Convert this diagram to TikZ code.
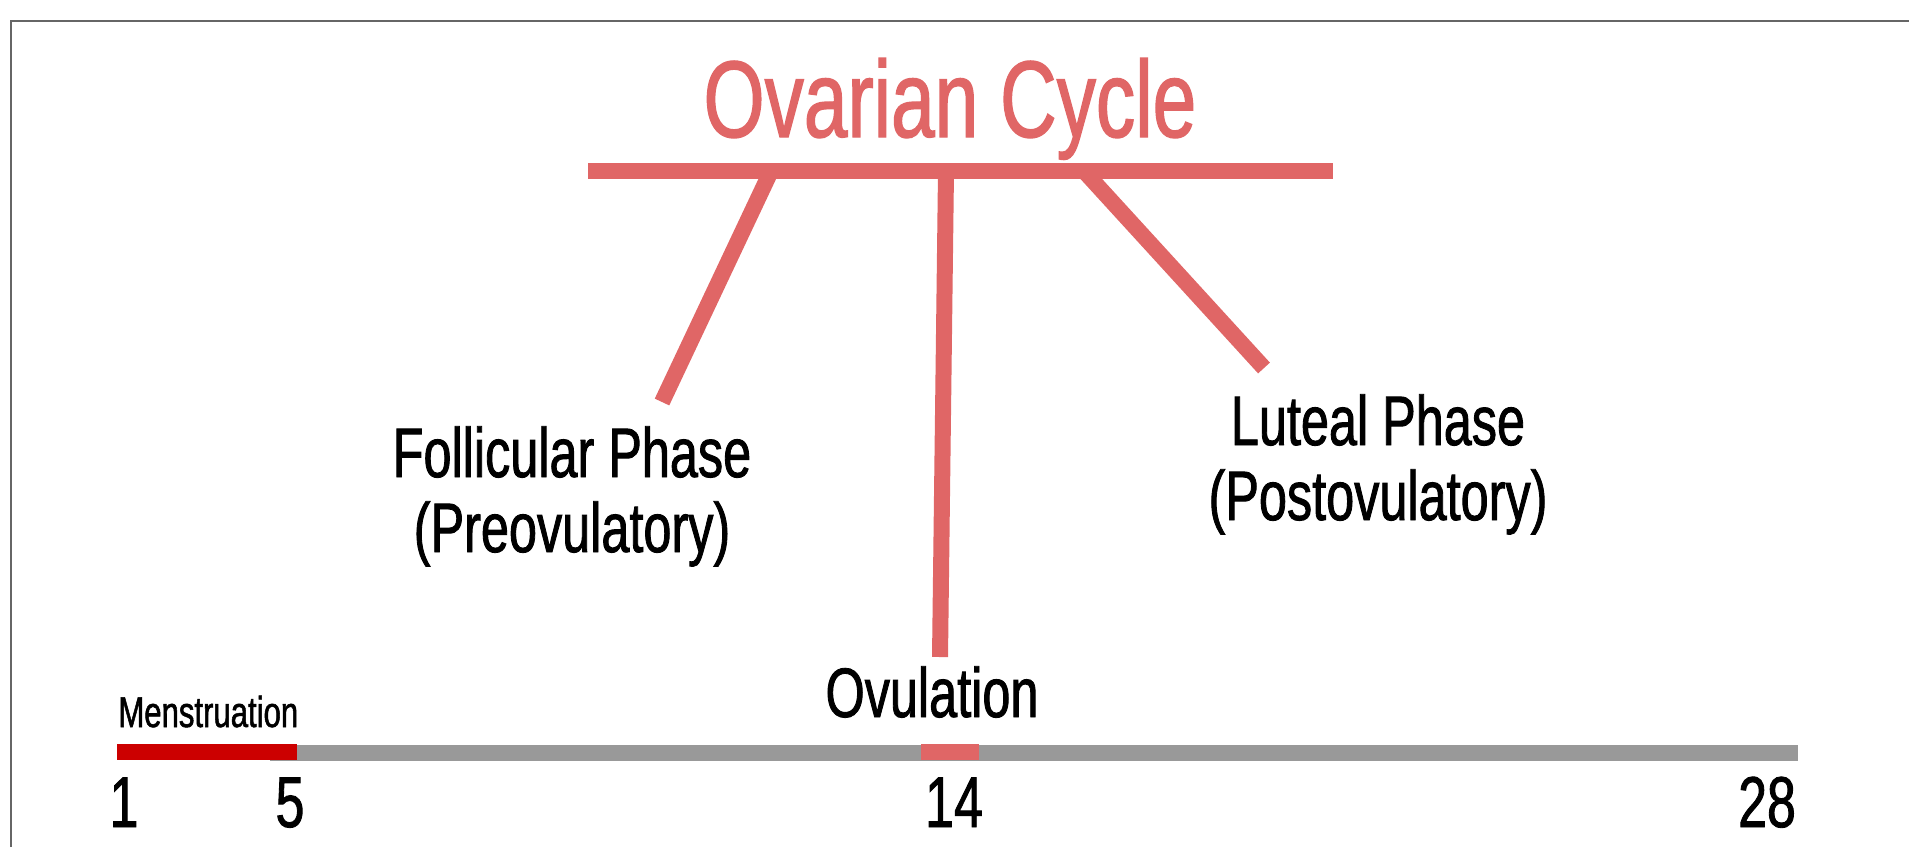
\documentclass[tikz,border=0pt]{standalone}
\usepackage{fontspec}
\setmainfont{Liberation Sans}[FakeStretch=0.72, FakeBold=1.2]

\definecolor{ovared}{HTML}{E06666}
\definecolor{menred}{HTML}{CC0000}
\definecolor{daygrey}{HTML}{999999}
\definecolor{framegrey}{HTML}{666666}

\begin{document}
\begin{tikzpicture}[x=0.5pt, y=-0.5pt, inner sep=0pt,
                    branch/.style={draw=ovared, line width=8pt},
                    day bar/.style={line width=8pt},
                    phase node/.style={align=center, anchor=base, font=\fontsize{35}{37.5}\selectfont},
                    day node/.style={anchor=base, font=\fontsize{36}{40}\selectfont}]

  \useasboundingbox (0,0) rectangle (1909,847);
  \draw[framegrey, line width=1pt] (11,847) -- (11,21) -- (1909,21);

  % titles and labels
  \node[anchor=base, text=ovared, font=\fontsize{54.5}{60}\selectfont] (title) at (950,137) {Ovarian Cycle};
  \node[phase node] (foll) at (572,552) {Follicular Phase\\(Preovulatory)};
  \node[phase node] (lut) at (1378,520) {Luteal Phase\\(Postovulatory)};
  \node[phase node] (ovu) at (932,717) {Ovulation};
  \node[anchor=base west, font=\fontsize{21.6}{24}\selectfont] (mens) at (118,727) {Menstruation};

  % bar and its branches
  \coordinate (barL) at (588,171);
  \coordinate (barR) at (1333,171);
  \coordinate (follTop) at (771,171);
  \coordinate (follEnd) at (662,402);
  \coordinate (ovuTop) at (946,171);
  \coordinate (ovuEnd) at (940,657);
  \coordinate (lutTop) at (1084,171);
  \coordinate (lutEnd) at (1264,368);

  \path[branch]
    (barL) edge (barR)
    (follTop) edge (follEnd)
    (ovuTop) edge (ovuEnd)
    (lutTop) edge (lutEnd);

  % timeline
  \coordinate (g5) at (270,753);
  \coordinate (g28) at (1798,753);
  \coordinate (d1) at (117,752);
  \coordinate (d5) at (297,752);
  \coordinate (o1) at (921,752);
  \coordinate (o2) at (979,752);

  \draw[day bar, daygrey] (g5) -- (g28);
  \draw[day bar, menred] (d1) -- (d5);
  \draw[day bar, ovared] (o1) -- (o2);

  \node[day node] (n1) at (124,827) {1};
  \node[day node] (n5) at (290,827) {5};
  \node[day node] (n14) at (954,827) {14};
  \node[day node] (n28) at (1767,827) {28};

\end{tikzpicture}
\end{document}
